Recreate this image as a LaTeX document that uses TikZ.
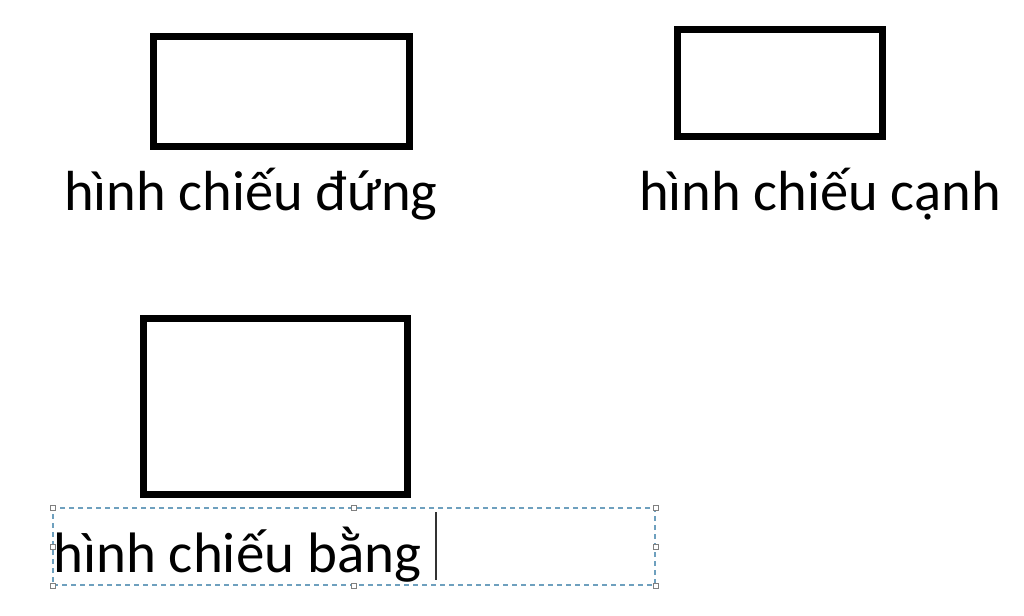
\documentclass[tikz,border=0pt]{standalone}
\usepackage{fontspec}
\setmainfont{Carlito}
\definecolor{selblue}{RGB}{110,160,190}
\begin{document}
\begin{tikzpicture}[x=1pt, y=-1pt]
\useasboundingbox (0,0) rectangle (1024,615);
\tikzset{view/.style={shape=rectangle, draw=black, line width=7pt, inner sep=0pt},
  caption/.style={anchor=base west, inner sep=0pt, font=\fontsize{56.5}{60}\selectfont},
  handle/.style={shape=rectangle, draw=gray, fill=white, line width=0.8pt, minimum size=5pt, inner sep=0pt}}
\node[view, minimum width=255.5pt, minimum height=109pt] (front) at (281.25, 91.5) {};
\node[view, minimum width=205pt, minimum height=106.5pt] (side) at (780, 83.25) {};
\node[view, minimum width=263.5pt, minimum height=175.5pt] (top) at (275.25, 406.25) {};
\node[caption] (frontlabel) at (64, 210) {hình chiếu đứng};
\node[caption] (sidelabel) at (639, 210) {hình chiếu cạnh};
\node[shape=rectangle, draw=selblue, line width=1.2pt, dash pattern=on 5pt off 4pt, minimum width=602pt, minimum height=77pt, inner sep=0pt] (box) at (354, 546.5) {};
\node[caption, font=\fontsize{57}{60}\selectfont] (toplabel) at (53, 572) {hình chiếu bằng};
\foreach \a/\n in {north west/nw, north/n, north east/ne, east/e, south east/se, south/s, south west/sw, west/w}
  \node[handle] (h-\n) at (box.\a) {};
\coordinate (caret) at (436, 512);
\coordinate (caretend) at (436, 580);
\path [-, line width=1.5pt, draw=black!80] (caret) edge (caretend);
\end{tikzpicture}
\end{document}
